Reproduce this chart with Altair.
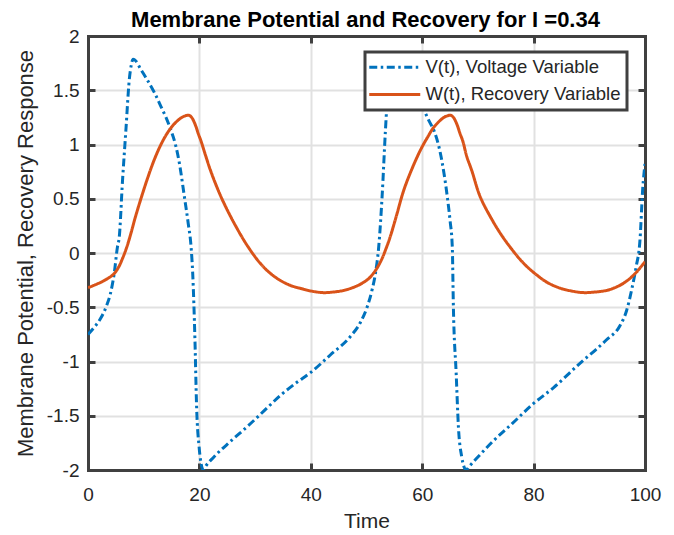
import altair as alt
import pandas as pd

# ---- data ----
t_v = [0, 1.2, 2.3, 3.3, 4.0, 4.7, 5.3, 5.6, 6.2, 6.8, 7.4, 7.8, 8.1, 8.6, 9.4, 10.7,
       12.0, 13.1, 14.0, 14.9, 15.7, 16.4, 17.3, 18.0, 18.5, 18.8, 19.2, 19.5, 19.95,
       20.3, 20.7, 21.2, 22.6, 25.5, 28.6, 31.5, 34.6, 37.3, 40.0, 43.5, 47.1, 48.9,
       50.1, 51.0, 51.6, 52.2, 52.8, 53.4, 53.9, 54.4, 54.9, 55.4, 56.2, 57.5, 58.8,
       60.3, 61.2, 62.1, 63.0, 63.6, 64.5, 65.0, 65.4, 65.6, 66.1, 66.5, 67.1, 67.5,
       67.9, 68.4, 70.0, 72.8, 76.2, 79.7, 83.6, 88.9, 91.2, 93.1, 95.5, 96.7, 97.6,
       98.4, 99.1, 99.6, 100]
v_vals = [-0.75, -0.68, -0.60, -0.49, -0.38, -0.19, 0.06, 0.14, 0.67, 1.13, 1.59, 1.74,
          1.785, 1.77, 1.70, 1.59, 1.47, 1.35, 1.25, 1.13, 1.00, 0.83, 0.52, 0.27, 0.06,
          -0.19, -0.80, -1.42, -1.79, -1.94, -2.0, -1.96, -1.88, -1.74, -1.60, -1.46,
          -1.31, -1.20, -1.10, -0.94, -0.77, -0.64, -0.50, -0.34, -0.19, 0.06, 0.52, 1.13,
          1.55, 1.74, 1.785, 1.77, 1.70, 1.59, 1.46, 1.32, 1.22, 1.13, 0.98, 0.83, 0.52,
          0.30, 0.06, -0.50, -1.11, -1.60, -1.88, -1.97, -2.0, -1.97, -1.88, -1.73, -1.57,
          -1.40, -1.24, -0.99, -0.89, -0.80, -0.67, -0.53, -0.34, -0.13, 0.12, 0.60, 0.82]

t_w = [0, 2.3, 4.0, 4.7, 5.5, 6.2, 7.0, 7.7, 8.5, 9.5, 10.7, 11.9, 13.1, 14.3, 15.5,
       16.7, 17.5, 18.1, 18.6, 19.2, 19.8, 20.3, 21.1, 22.0, 23.2, 24.4, 26.5, 28.7,
       31.0, 32.8, 34.6, 36.4, 38.2, 40.0, 42.1, 44.0, 45.9, 47.5, 49.0, 50.3, 51.2,
       52.0, 52.8, 53.5, 54.2, 55.3, 56.7, 58.2, 59.7, 61.0, 62.1, 63.9, 64.6, 65.1,
       65.6, 66.2, 66.8, 67.3, 68.0, 68.9, 70.4, 72.5, 74.3, 76.0, 77.5, 78.8, 80.5,
       82.4, 84.8, 86.8, 88.9, 91.0, 93.1, 94.8, 96.1, 97.4, 98.5, 100]
w_vals = [-0.32, -0.27, -0.22, -0.19, -0.13, -0.05, 0.06, 0.18, 0.33, 0.50, 0.69, 0.86,
          1.00, 1.11, 1.19, 1.245, 1.265, 1.27, 1.25, 1.19, 1.10, 1.03, 0.90, 0.76, 0.60,
          0.46, 0.25, 0.06, -0.10, -0.19, -0.255, -0.30, -0.327, -0.35, -0.365, -0.36,
          -0.345, -0.32, -0.285, -0.24, -0.19, -0.13, -0.05, 0.04, 0.14, 0.33, 0.58,
          0.78, 0.95, 1.07, 1.16, 1.25, 1.265, 1.27, 1.25, 1.19, 1.10, 1.03, 0.89, 0.76,
          0.52, 0.31, 0.16, 0.04, -0.055, -0.125, -0.20, -0.27, -0.325, -0.35, -0.365,
          -0.36, -0.345, -0.315, -0.28, -0.23, -0.175, -0.08]

series_names = ["V(t), Voltage Variable", "W(t), Recovery Variable"]
series_colors = ["#0072BD", "#D95319"]
series_dash = [[8, 3.5, 2.5, 3.5], [1, 0]]
x_ticks = [0, 20, 40, 60, 80, 100]
y_ticks = [-2, -1.5, -1, -0.5, 0, 0.5, 1, 1.5, 2]
title_text = ["Membrane Potential and Recovery for I =0.34"]

df_v = pd.DataFrame({"t": t_v, "val": v_vals, "series": series_names[0]})
df_w = pd.DataFrame({"t": t_w, "val": w_vals, "series": series_names[1]})
df = pd.concat([df_v, df_w], ignore_index=True)

AX = "#404040"
TXT = "#262626"
FONT = "Liberation Sans"
TICK = {"expr": "-7"}
LABEL_EXPR = "'' + datum.value"
W, H = 557, 434

xscale = alt.Scale(domain=[0, 100], nice=False, zero=False)
yscale = alt.Scale(domain=[-2, 2], nice=False, zero=False)

legend = alt.Legend(
    orient="none", legendX=277, legendY=16, title=None,
    fillColor="white", strokeColor=AX, padding=6, rowPadding=8.2,
    labelFont=FONT, labelFontSize=18.5, labelColor=TXT, labelLimit=400,
    symbolType="M-2.75,0H10", symbolSize=64, symbolStrokeWidth=3, labelOffset=36,
)

x_main = alt.X("t:Q", scale=xscale, axis=alt.Axis(
    orient="bottom", values=x_ticks, title="Time", grid=True, tickSize=TICK,
    labelPadding=22, titlePadding=6, labelExpr=LABEL_EXPR, labelFlush=False))
y_main = alt.Y("val:Q", scale=yscale, axis=alt.Axis(
    orient="left", values=y_ticks, title="Membrane Potential, Recovery Response",
    grid=True, tickSize=TICK, labelPadding=16, titlePadding=9, titleFontSize=22,
    labelExpr=LABEL_EXPR, labelFlush=False))
color = alt.Color("series:N", scale=alt.Scale(domain=series_names, range=series_colors),
                  legend=legend)
dash = alt.StrokeDash("series:N", scale=alt.Scale(domain=series_names, range=series_dash),
                      legend=legend)

line_v = alt.Chart(df_v).mark_line(strokeWidth=3, clip=True, interpolate="monotone").encode(
    x=x_main, y=y_main, color=color, strokeDash=dash)
line_w = alt.Chart(df_w).mark_line(strokeWidth=3, clip=True, interpolate="catmull-rom").encode(
    x="t:Q", y="val:Q", color=color, strokeDash=dash)

frame = alt.Chart(df).mark_point(opacity=0).encode(
    x=alt.X("t:Q", scale=xscale, axis=alt.Axis(
        orient="top", values=x_ticks, title=None, labels=False, grid=False, tickSize=TICK,
        minExtent=0, maxExtent=0)),
    y=alt.Y("val:Q", scale=yscale, axis=alt.Axis(
        orient="right", values=y_ticks, title=None, labels=False, grid=False, tickSize=TICK,
        minExtent=0, maxExtent=0)),
)

title = alt.Chart(pd.DataFrame({"title": title_text})).mark_text(
    font=FONT, fontSize=22, fontWeight="bold", color="#000000",
    align="center", baseline="alphabetic",
).encode(text="title:N", x=alt.value(W / 2 - 1), y=alt.value(-9))

chart = alt.layer(alt.layer(line_v, line_w), frame, title).resolve_axis(
    x="independent", y="independent"
).properties(
    width=W, height=H,
    background="white",
    autosize=alt.AutoSizeParams(type="none"),
    padding={"left": 80, "top": 28, "right": 21, "bottom": 62},
).configure_axis(
    domainColor=AX, domainWidth=3, domainCap="square",
    tickColor=AX, tickWidth=3,
    labelFont=FONT, labelFontSize=19, labelColor=TXT,
    titleFont=FONT, titleFontSize=21, titleFontWeight="normal", titleColor=TXT,
    gridColor="#e1e1e1", gridWidth=2,
).configure_legend(
    strokeWidth=3,
).configure_view(
    strokeWidth=0,
)

chart.save("out.html", embed_options={"renderer": "svg", "actions": False})
